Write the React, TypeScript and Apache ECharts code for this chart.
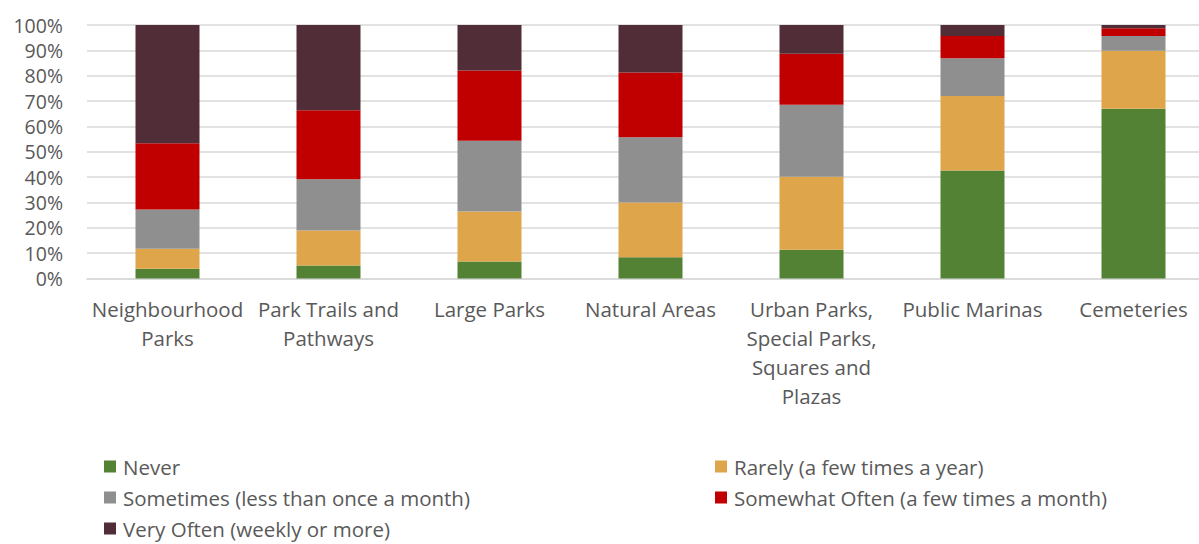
import React, { useEffect, useRef } from "react";
import * as echarts from "echarts";

const categories = [
  "Neighbourhood\nParks",
  "Park Trails and\nPathways",
  "Large Parks",
  "Natural Areas",
  "Urban Parks,\nSpecial Parks,\nSquares and\nPlazas",
  "Public Marinas",
  "Cemeteries",
];

const seriesNames = [
  "Never",
  "Rarely (a few times a year)",
  "Sometimes (less than once a month)",
  "Somewhat Often (a few times a month)",
  "Very Often (weekly or more)",
];

const never = [3.8, 5.1, 6.7, 8.4, 11.3, 42.6, 67.0];
const rarely = [7.9, 13.8, 19.7, 21.6, 28.8, 29.4, 22.8];
const sometimes = [15.5, 20.3, 27.9, 25.7, 28.4, 14.9, 5.9];
const somewhatOften = [26.2, 27.2, 27.8, 25.6, 20.2, 8.8, 3.0];
const veryOften = [46.6, 33.6, 17.9, 18.7, 11.3, 4.3, 1.3];

const colors = ["#548235", "#DEA54A", "#8F8F8F", "#C00000", "#512D37"];

const yTicks = [0, 10, 20, 30, 40, 50, 60, 70, 80, 90, 100];

export default function App() {
  const ref = useRef<HTMLDivElement>(null);
  useEffect(() => {
    if (!ref.current) return;
    const chart = echarts.init(ref.current, undefined, { renderer: "svg" });
    const values = [never, rarely, sometimes, somewhatOften, veryOften];
    const font = "'Open Sans', sans-serif";
    const legendPos = [
      { left: 104, top: 456 },
      { left: 715, top: 456 },
      { left: 104, top: 487 },
      { left: 715, top: 487 },
      { left: 104, top: 518 },
    ];
    chart.setOption({
      animation: false,
      color: colors,
      grid: { left: 87, top: 25, width: 1127, height: 253.5, containLabel: false },
      xAxis: {
        type: "category",
        data: categories,
        axisTick: { show: false },
        axisLine: { show: true, lineStyle: { color: "#D9D9D9", width: 1.5 } },
        axisLabel: {
          interval: 0,
          color: "#595959",
          fontSize: 20.5,
          fontFamily: font,
          lineHeight: 29,
          margin: 16,
        },
      },
      yAxis: {
        type: "value",
        min: yTicks[0],
        max: yTicks[yTicks.length - 1],
        interval: 10,
        axisLine: { show: false },
        axisTick: { show: false },
        splitLine: { lineStyle: { color: "#D9D9D9", width: 1.5 } },
        axisLabel: {
          color: "#595959",
          fontSize: 19.5,
          fontFamily: font,
          margin: 24,
          formatter: (v: number) => `${v}%`,
        },
      },
      legend: seriesNames.map((n, i) => ({
        data: [n],
        left: legendPos[i].left,
        top: legendPos[i].top,
        padding: 0,
        icon: "rect",
        itemWidth: 12,
        itemHeight: 12,
        itemGap: 0,
        selectedMode: false,
        textStyle: { color: "#595959", fontSize: 20.5, fontFamily: font, padding: [0, 0, 0, 2] },
      })),
      series: seriesNames.map((n, i) => ({
        name: n,
        type: "bar",
        stack: "total",
        barWidth: 64,
        data: values[i],
        itemStyle: { color: colors[i] },
      })),
    });
    return () => chart.dispose();
  }, []);
  return (
    <div
      style={{ position: "absolute", left: 0, top: 0, width: 1199, height: 544, overflow: "hidden", background: "#fff" }}
    >
      <div ref={ref} style={{ width: 1215, height: 544 }} />
    </div>
  );
}
